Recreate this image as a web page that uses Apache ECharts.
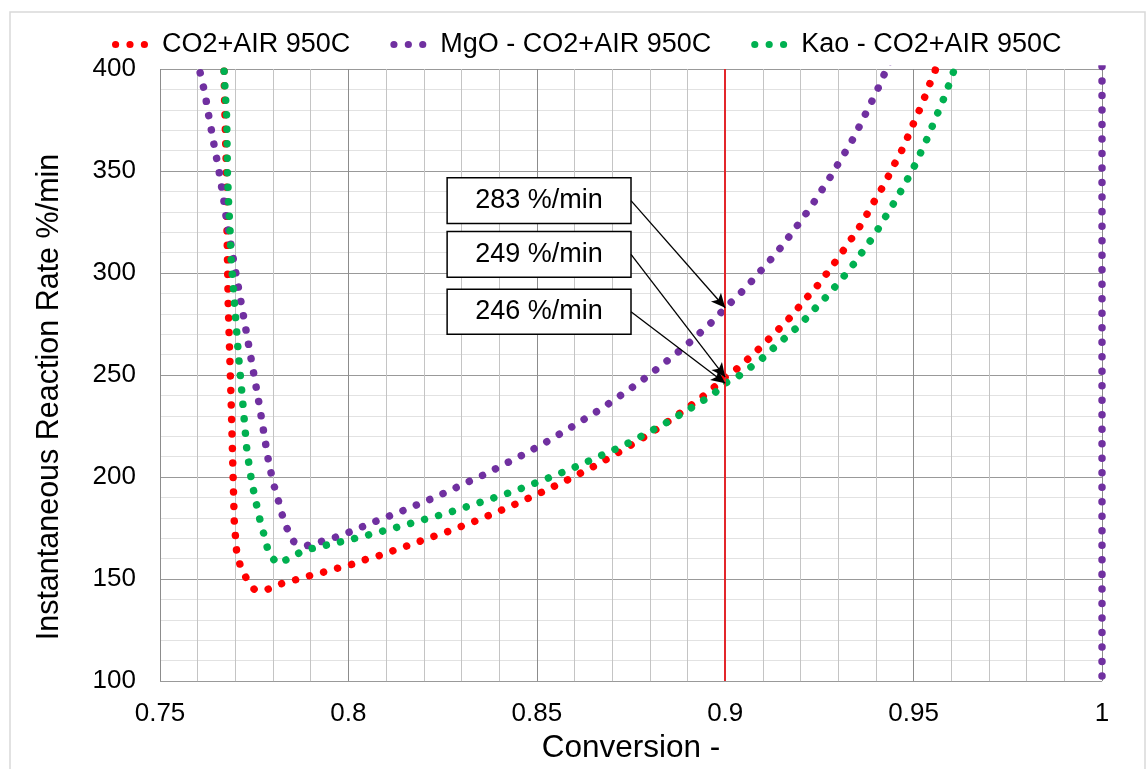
<!DOCTYPE html>
<html>
<head>
<meta charset="utf-8">
<script src="https://cdn.jsdelivr.net/npm/echarts@6/dist/echarts.min.js"></script>
<style>
  html, body { margin: 0; padding: 0; background: #fff; }
  #chart { width: 1147px; height: 769px; }
</style>
</head>
<body>
<div id="chart"></div>
<script>
// Instantaneous reaction rate (%/min) against conversion for three runs at 950C.

const seriesNames = ['CO2+AIR 950C', 'MgO - CO2+AIR 950C', 'Kao - CO2+AIR 950C'];

// CO2+AIR 950C
const convAir = [0.7669, 0.767, 0.7671, 0.7673, 0.7676, 0.7677, 0.7679, 0.7681, 0.7685, 0.7689, 0.7693, 0.7695, 0.7697, 0.77, 0.7703, 0.7712, 0.7728, 0.775, 0.778, 0.7815, 0.7853, 0.789, 0.7932, 0.7969, 0.8009, 0.8046, 0.8083, 0.812, 0.8158, 0.8195, 0.8232, 0.8269, 0.8305, 0.8342, 0.8378, 0.8414, 0.845, 0.8486, 0.8521, 0.8556, 0.8592, 0.8626, 0.8662, 0.8695, 0.8729, 0.8763, 0.8796, 0.8828, 0.8861, 0.8893, 0.8926, 0.8957, 0.8984, 0.9, 0.9017, 0.9046, 0.9076, 0.9104, 0.9131, 0.916, 0.9185, 0.9209, 0.9237, 0.9261, 0.9284, 0.9307, 0.9329, 0.9352, 0.9372, 0.9391, 0.9411, 0.943, 0.9447, 0.9466, 0.9482, 0.9497, 0.9513, 0.9528, 0.9542, 0.9557, 0.9565];
const rateAir = [406, 400, 388, 373.4, 351.8, 330.3, 308.3, 284.7, 260.3, 235.8, 207.5, 193.3, 178.8, 171.5, 164.3, 157.3, 150.8, 145, 144.5, 147.4, 149.3, 151.3, 153.3, 155.2, 157.2, 159.6, 161.6, 164, 166.4, 168.9, 171.3, 173.6, 176.2, 178.8, 181.6, 184.4, 187.3, 190.3, 193.2, 196.4, 199.5, 202.9, 206.2, 209.8, 213.4, 217.1, 220.8, 224.7, 228.8, 233, 237.4, 241.8, 246.2, 249, 250.8, 255.5, 260.4, 265.5, 270.5, 275.7, 280.9, 286.5, 292, 297.7, 303.4, 309.3, 315.3, 321.2, 327.4, 333.7, 339.9, 346.3, 352.6, 359.1, 365.6, 372.2, 378.8, 385.5, 392.3, 399, 406];

// MgO - CO2+AIR 950C (rises off the top, then the run closes at conversion 1)
const convMgO = [0.7598, 0.7611, 0.762, 0.7626, 0.7633, 0.764, 0.7647, 0.7655, 0.7661, 0.7668, 0.7673, 0.7679, 0.7686, 0.7692, 0.7716, 0.774, 0.7764, 0.7786, 0.7794, 0.7803, 0.7814, 0.7824, 0.7837, 0.7855, 0.789, 0.7927, 0.7964, 0.8001, 0.8038, 0.8075, 0.811, 0.8147, 0.8183, 0.8221, 0.8255, 0.8291, 0.8326, 0.8362, 0.8397, 0.8432, 0.8467, 0.8501, 0.8535, 0.8569, 0.8602, 0.8636, 0.8669, 0.8701, 0.8734, 0.8766, 0.8797, 0.8828, 0.8858, 0.8889, 0.8918, 0.8947, 0.8976, 0.9, 0.9031, 0.9058, 0.9084, 0.911, 0.9136, 0.916, 0.9183, 0.9206, 0.9229, 0.925, 0.9272, 0.9292, 0.9312, 0.9333, 0.9351, 0.9368, 0.9386, 0.9403, 0.9419, 0.9445, 1.0, 1.0];
const rateMgO = [405, 394.6, 387.5, 380.4, 373.4, 366.3, 359.1, 352, 344.8, 337.6, 330.6, 323.4, 316.5, 309.5, 284.7, 259.8, 234.9, 209.8, 202.6, 195.6, 188.6, 181.7, 174.9, 168.4, 166.4, 168.4, 170.4, 172.9, 175.7, 178.5, 181, 183.7, 186.5, 189.4, 192.2, 195.3, 198.4, 201.3, 204.7, 208, 211.3, 214.7, 218.2, 222, 225.6, 229.5, 233.2, 237.3, 241.5, 245.6, 249.9, 254.3, 258.8, 263.3, 268.1, 273, 277.9, 283, 288.3, 293.5, 298.9, 304.4, 309.8, 315.5, 321.2, 326.9, 332.9, 338.9, 345, 351.1, 357.3, 363.6, 370, 376.4, 383, 389.4, 396.1, 407, 450, 50];

// Kao - CO2+AIR 950C
const convKao = [0.7669, 0.767, 0.7672, 0.7677, 0.7679, 0.7682, 0.7686, 0.7688, 0.7698, 0.7708, 0.772, 0.7731, 0.7737, 0.7743, 0.7751, 0.7759, 0.7768, 0.7779, 0.7788, 0.781, 0.7846, 0.788, 0.7918, 0.7956, 0.7995, 0.8033, 0.8071, 0.8108, 0.8146, 0.8183, 0.8223, 0.8259, 0.8296, 0.8333, 0.8371, 0.8408, 0.8446, 0.8482, 0.8519, 0.8555, 0.8592, 0.8627, 0.8663, 0.8699, 0.8735, 0.877, 0.8803, 0.8838, 0.8871, 0.8905, 0.8938, 0.8971, 0.9, 0.9036, 0.9067, 0.9099, 0.9127, 0.9157, 0.9186, 0.9214, 0.9241, 0.9268, 0.9293, 0.9319, 0.9343, 0.9366, 0.9389, 0.941, 0.943, 0.945, 0.947, 0.9489, 0.9507, 0.9523, 0.9539, 0.9554, 0.9569, 0.9584, 0.9597, 0.961, 0.9617];
const rateKao = [406, 399.5, 392.3, 376, 349, 334.7, 320.2, 308.6, 284.7, 260.3, 235.8, 212.2, 205.4, 198, 191, 184, 176.9, 169.9, 162.9, 157.7, 160.2, 164, 165.6, 167.3, 168.9, 170.7, 172.5, 174.4, 176.2, 178.3, 180.3, 182.2, 184.4, 186.6, 188.9, 191.2, 193.5, 196.1, 198.7, 201.3, 204.1, 207, 209.9, 212.9, 215.9, 219.2, 222.6, 226, 229.6, 233.4, 237.1, 241, 246, 249.5, 253.8, 258.3, 263, 267.9, 272.6, 277.7, 283.1, 288.3, 293.6, 299.3, 304.9, 310.9, 316.8, 322.8, 329, 335, 341.4, 347.7, 354.2, 360.7, 367.1, 374, 380.6, 387.3, 394, 400.8, 405];

// Rates read at the reference conversion, in the order MgO, CO2+AIR, Kao
const refConversion = 0.9;
const refRates = [283, 249, 246];
const refUnit = ' %/min';

// Axis ranges and tick labels
const xTicks = [0.75, 0.8, 0.85, 0.9, 0.95, 1];
const yTicks = [100, 150, 200, 250, 300, 350, 400];

// ---- presentation ----
const colors = ['#ff0000', '#7030a0', '#00b050'];
const FONT = '"Liberation Sans", Arial, sans-serif';
// label boxes in axis units: left/right edges and [top, bottom] of each box
const boxLeftX = 0.8262, boxRightX = 0.875;
const boxTopBottom = [[346.7, 324.3], [320.4, 297.9], [292.0, 270.0]];

function pairs(xs, ys) { return xs.map((x, i) => [x, ys[i]]); }

const dotStyle = (c) => ({ color: c, width: 7.5, type: [0.01, 14.5], cap: 'round', join: 'round' });
const dotIcon = 'path://M3.5,0A3.5,3.5,0,1,1,3.5,7A3.5,3.5,0,1,1,3.5,0Z' +
  'M17.5,0A3.5,3.5,0,1,1,17.5,7A3.5,3.5,0,1,1,17.5,0Z' +
  'M31.5,0A3.5,3.5,0,1,1,31.5,7A3.5,3.5,0,1,1,31.5,0Z';

function curve(name, data, c) {
  return {
    name, type: 'line', data, color: c, z: 3,
    showSymbol: false, symbol: 'none', smooth: false, clip: true,
    lineStyle: dotStyle(c), itemStyle: { color: c },
    silent: true, animation: false
  };
}

const chart = echarts.init(document.getElementById('chart'), null, { renderer: 'canvas' });

chart.setOption({
  animation: false,
  backgroundColor: '#ffffff',
  textStyle: { fontFamily: FONT },
  graphic: [
    {
      type: 'rect', z: -10, silent: true,
      shape: { x: 10, y: 12, width: 1135, height: 800 },
      style: { fill: 'none', stroke: '#d9d9d9', lineWidth: 1.5 }
    },
    {
      type: 'text', silent: true, x: 50, y: 397, rotation: Math.PI / 2,
      style: {
        text: 'Instantaneous Reaction Rate %/min', font: '30.5px ' + FONT,
        fill: '#000', align: 'center', verticalAlign: 'middle'
      }
    }
  ],
  legend: {
    data: seriesNames,
    left: 107, top: 26,
    icon: dotIcon, itemWidth: 36, itemHeight: 7.2, itemGap: 40,
    textStyle: { fontSize: 27, color: '#000', fontFamily: FONT, padding: [0, 0, 0, 9] },
    selectedMode: false
  },
  grid: { left: 160, right: 45, top: 69, bottom: 86 },
  xAxis: {
    type: 'value', min: xTicks[0], max: xTicks[xTicks.length - 1], interval: 0.05,
    name: 'Conversion -', nameLocation: 'middle', nameGap: 50,
    nameTextStyle: { fontSize: 31.5, color: '#000', fontFamily: FONT },
    axisLine: { show: false }, axisTick: { show: false },
    axisLabel: { fontSize: 26, color: '#000', margin: 20, fontFamily: FONT,
      formatter: (v) => String(+v.toFixed(2)) },
    splitLine: { show: true, lineStyle: { color: '#8c8c8c', width: 1 } },
    minorTick: { show: false, splitNumber: 5 },
    minorSplitLine: { show: true, lineStyle: { color: '#c4c4c4', width: 1 } }
  },
  yAxis: {
    type: 'value', min: yTicks[0], max: yTicks[yTicks.length - 1], interval: 50,
    axisLine: { show: false }, axisTick: { show: false },
    axisLabel: { fontSize: 26, color: '#000', margin: 24, fontFamily: FONT },
    splitLine: { show: true, lineStyle: { color: '#999999', width: 1 } },
    minorTick: { show: false, splitNumber: 5 },
    minorSplitLine: { show: true, lineStyle: { color: '#e2e2e2', width: 1 } }
  },
  series: [
    curve(seriesNames[0], pairs(convAir, rateAir), colors[0]),
    curve(seriesNames[1], pairs(convMgO, rateMgO), colors[1]),
    curve(seriesNames[2], pairs(convKao, rateKao), colors[2]),
    {
      // reference line at conversion 0.9
      name: 'reference', type: 'line', data: [[refConversion, refRates[0]]],
      showSymbol: false, symbol: 'none', lineStyle: { width: 0 }, z: 2, silent: true,
      markLine: {
        silent: true, animation: false, precision: 4,
        data: [
          [{ coord: [refConversion, yTicks[0]], symbol: 'none' },
           { coord: [refConversion, yTicks[yTicks.length - 1]], symbol: 'none' }]
        ],
        lineStyle: { color: '#e3262b', width: 2, type: 'solid' },
        label: { show: false }
      }
    },
    {
      // labelled rates with arrows to the curves at conversion 0.9
      name: 'labels', type: 'line', data: [[refConversion, refRates[0]]],
      showSymbol: false, symbol: 'none', lineStyle: { width: 0 }, z: 5, silent: true,
      markArea: {
        silent: true, animation: false,
        itemStyle: { color: '#fff', opacity: 1, borderColor: '#000', borderWidth: 1.5 },
        label: { show: true, position: 'inside', color: '#000', fontSize: 27, fontFamily: FONT },
        data: refRates.map((r, i) => [
          { coord: [boxLeftX, boxTopBottom[i][0]], name: r + refUnit },
          { coord: [boxRightX, boxTopBottom[i][1]] }
        ])
      },
      markLine: {
        silent: true, animation: false,
        symbol: ['none', 'arrow'], symbolSize: [10, 14],
        lineStyle: { color: '#000', width: 1.3, type: 'solid' },
        label: { show: false },
        data: refRates.map((r, i) => [
          { coord: [boxRightX, (boxTopBottom[i][0] + boxTopBottom[i][1]) / 2] },
          { coord: [refConversion, r] }
        ])
      }
    }
  ]
});
</script>
</body>
</html>
